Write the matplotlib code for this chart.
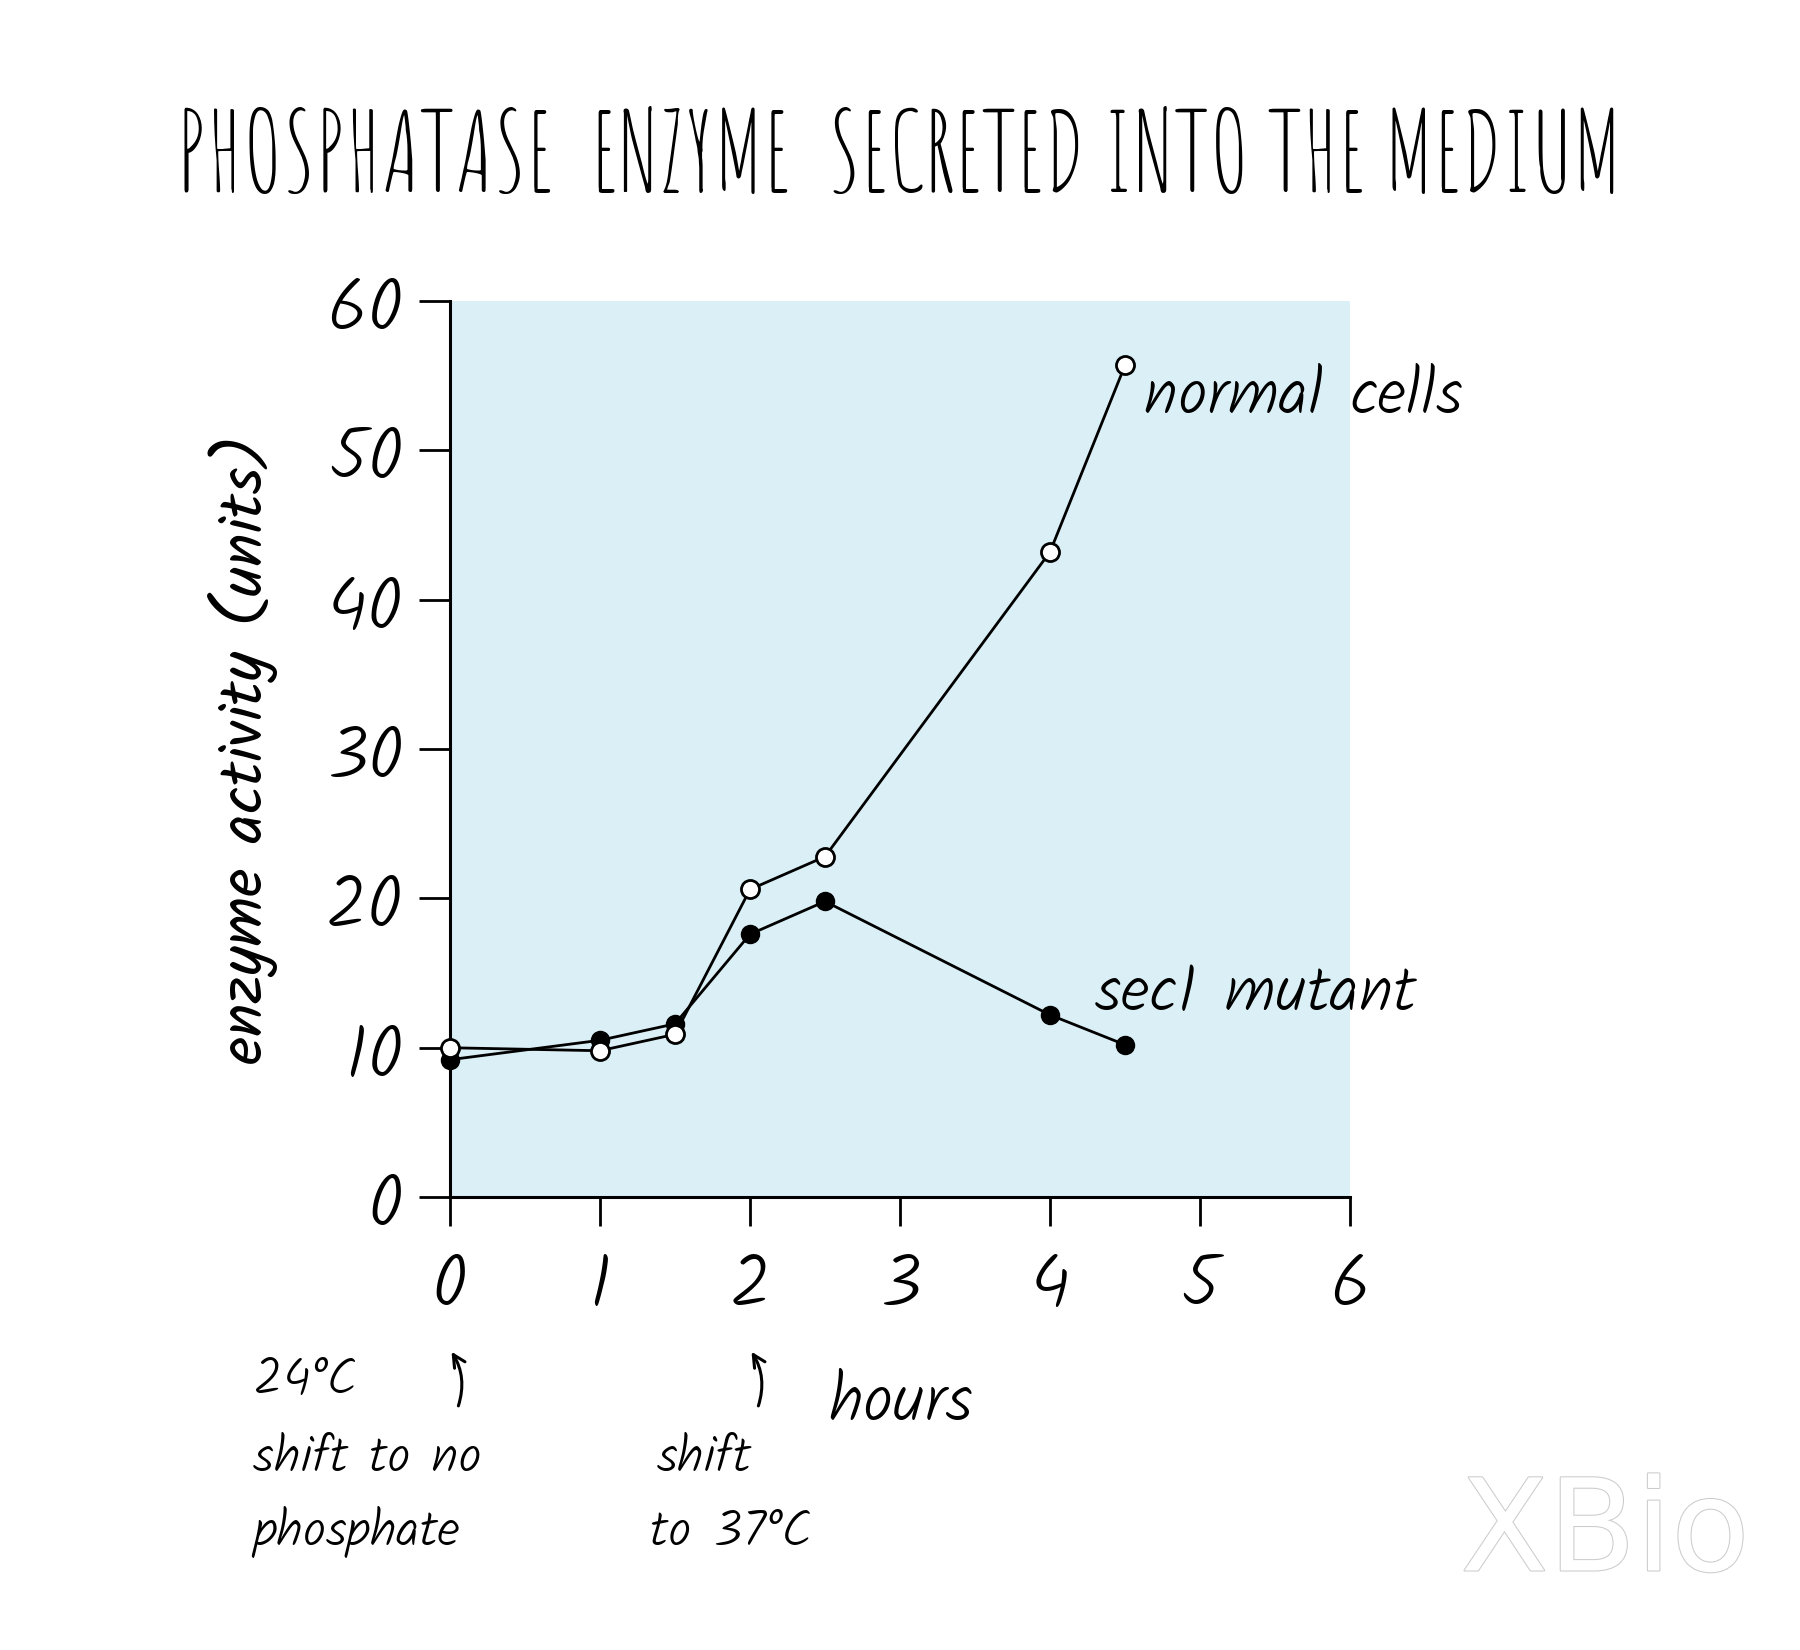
import matplotlib
matplotlib.use("Agg")
import matplotlib.pyplot as plt
import matplotlib.patheffects as pe

hours = [0, 1, 1.5, 2, 2.5, 4, 4.5]
normal_cells = [10.0, 9.8, 10.9, 20.6, 22.8, 43.2, 55.7]
sec1_mutant = [9.2, 10.5, 11.6, 17.6, 19.8, 12.2, 10.2]
x_ticks = [0, 1, 2, 3, 4, 5, 6]
y_ticks = [0, 10, 20, 30, 40, 50, 60]

HAND = ['Kalam', 'DejaVu Sans']
TITLE = ['Amatic SC', 'DejaVu Sans']
plt.rcParams['font.family'] = HAND
plt.rcParams['font.weight'] = 'light'

fig = plt.figure(figsize=(18, 16.5), dpi=100)
ax = fig.add_axes([0.25, 0.2745, 0.5, 0.543])
ax.set_facecolor('#dbf0f6')
ax.set_xlim(0, 6)
ax.set_ylim(0, 60)
for s in ['top', 'right']:
    ax.spines[s].set_visible(False)
for s in ['left', 'bottom']:
    ax.spines[s].set_linewidth(2.2)
    ax.spines[s].set_color('black')

ax.plot(hours, normal_cells, color='black', lw=2.0, marker='o', ms=13,
        mfc='white', mec='black', mew=2.0, zorder=4, clip_on=False)
ax.plot(hours, sec1_mutant, color='black', lw=2.0, marker='o', ms=13,
        mfc='black', mec='black', zorder=3, clip_on=False)

ax.set_xticks(x_ticks)
ax.set_yticks(y_ticks)
ax.tick_params(axis='y', direction='out', length=22, width=2.0, pad=11, labelsize=53)
ax.tick_params(axis='x', direction='out', length=21, width=2.0, pad=16, labelsize=53)

ax.set_ylabel('enzyme activity (units)', fontsize=45, labelpad=34)

fig.text(0.5, 0.909, 'PHOSPHATASE  ENZYME  SECRETED INTO THE MEDIUM',
         ha='center', va='center', fontsize=78.5, family=TITLE, weight='normal')

ax.text(4.63, 53.6, 'normal cells', fontsize=47, va='center', ha='left')
ax.text(4.3, 13.6, 'sec1 mutant', fontsize=47, va='center', ha='left')

# arrows under the axis
for xv in [0.0, 2.0]:
    ax.annotate('', xy=(xv, -0.170), xytext=(xv + 0.05, -0.236),
                xycoords=('data', 'axes fraction'), textcoords=('data', 'axes fraction'),
                arrowprops=dict(arrowstyle='->', lw=2.2, color='black',
                                connectionstyle='arc3,rad=0.25', mutation_scale=22),
                annotation_clip=False)

ax.text(2.52, -0.229, 'hours', transform=ax.get_xaxis_transform(), fontsize=48,
        ha='left', va='center')

def ftxt(x, y, s):
    fig.text(x / 1800, 1 - y / 1650, s, fontsize=37, ha='left', va='center')

ftxt(253, 1380, '24°C')
ftxt(253, 1458, 'shift to no')
ftxt(253, 1532, 'phosphate')
ftxt(657, 1458, 'shift')
ftxt(650, 1532, 'to 37°C')

fig.text(1605 / 1800, 1 - 1535 / 1650, 'XBio', fontsize=92, ha='center', va='center',
         color='white', family=['DejaVu Sans'], weight='normal',
         path_effects=[pe.withStroke(linewidth=1.5, foreground='#cccccc')])

fig.savefig('out.png', dpi=100)
